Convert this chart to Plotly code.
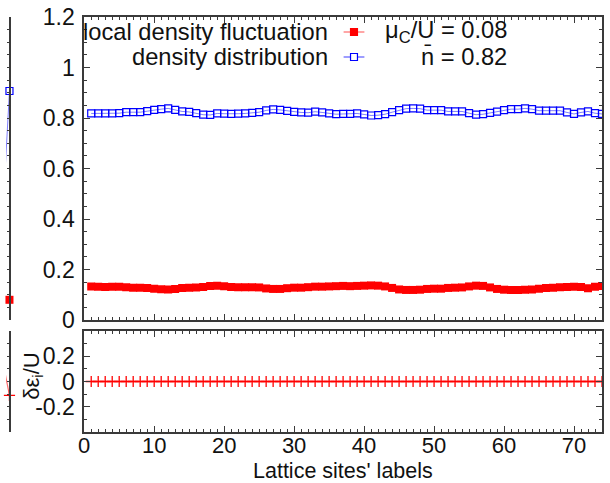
import plotly.graph_objects as go

# Lattice sites and on-site quantities
sites = list(range(1, 75))

density = [
    0.818, 0.818, 0.818, 0.818, 0.819, 0.823, 0.823, 0.823, 0.827, 0.832,
    0.835, 0.838, 0.832, 0.826, 0.824, 0.819, 0.813, 0.812, 0.818, 0.817,
    0.816, 0.817, 0.818, 0.820, 0.823, 0.830, 0.834, 0.832, 0.828, 0.824,
    0.822, 0.821, 0.825, 0.822, 0.818, 0.815, 0.816, 0.816, 0.818, 0.814,
    0.810, 0.811, 0.815, 0.823, 0.831, 0.837, 0.838, 0.837, 0.831, 0.831,
    0.831, 0.826, 0.826, 0.826, 0.819, 0.813, 0.815, 0.820, 0.825, 0.831,
    0.835, 0.835, 0.838, 0.835, 0.829, 0.829, 0.829, 0.829, 0.822, 0.816,
    0.822, 0.826, 0.819, 0.816,
]

fluctuation = [
    0.133, 0.132, 0.131, 0.132, 0.132, 0.130, 0.128, 0.128, 0.127, 0.124,
    0.122, 0.121, 0.123, 0.127, 0.128, 0.129, 0.131, 0.135, 0.136, 0.134,
    0.131, 0.130, 0.130, 0.130, 0.129, 0.125, 0.123, 0.123, 0.126, 0.128,
    0.128, 0.130, 0.132, 0.132, 0.133, 0.134, 0.135, 0.134, 0.135, 0.136,
    0.137, 0.136, 0.133, 0.127, 0.121, 0.119, 0.119, 0.120, 0.123, 0.124,
    0.124, 0.127, 0.128, 0.129, 0.133, 0.136, 0.135, 0.129, 0.123, 0.120,
    0.119, 0.119, 0.120, 0.121, 0.124, 0.127, 0.128, 0.130, 0.131, 0.132,
    0.131, 0.126, 0.132, 0.135,
]

delta_eps = [0.0] * len(sites)

# Tail of the neighbouring panel on the left
prev_sites = [9, 10]
prev_density = [0.35, 0.907]
prev_fluctuation = [0.09, 0.08]
prev_delta_eps = [0.1, -0.055]

legend_labels = ["local density fluctuation", "density distribution"]
param_labels = ["μ<sub>C</sub>/U = 0.08", "n\u0304 = 0.82"]
x_title = "Lattice sites' labels"
y2_title = "δε<sub>i</sub>/U"

FONT = "Liberation Sans"
TXT = "#111"
RED = "#ff0000"
BLUE = "#0000ff"
FRAME = "#3a3a3a"
FS = 23
FS_KEY = 23.7

W, H = 610, 483
L, R, T, B = 0, 8, 17, 51
PW = W - L - R
PH = H - T - B


def px(x):
    return x / PW


def py(y):
    return (H - B - y) / PH


fig = go.Figure()

# main top panel
fig.add_trace(go.Scatter(
    x=sites, y=fluctuation, mode="lines+markers", xaxis="x", yaxis="y",
    line=dict(color="rgba(255,60,60,0.7)", width=1.5),
    marker=dict(symbol="square", size=8, color=RED, line=dict(width=0)),
    showlegend=False,
))
fig.add_trace(go.Scatter(
    x=sites, y=density, mode="lines+markers", xaxis="x", yaxis="y",
    line=dict(color="rgba(40,40,255,0.6)", width=1),
    marker=dict(symbol="square-open", size=7, color=BLUE, line=dict(width=1.2)),
    showlegend=False,
))

# main bottom panel
fig.add_trace(go.Scatter(
    x=sites, y=delta_eps, mode="lines+markers", xaxis="x2", yaxis="y2",
    line=dict(color="rgba(255,60,60,0.75)", width=1.5),
    marker=dict(symbol="cross-thin", size=8, color=RED, line=dict(width=1.3, color=RED)),
    showlegend=False,
))

# neighbouring panel tail
fig.add_trace(go.Scatter(
    x=prev_sites, y=prev_density, mode="lines+markers", xaxis="x3", yaxis="y3",
    line=dict(color="rgba(40,40,255,0.6)", width=1),
    marker=dict(symbol="square-open", size=7, color=BLUE, line=dict(width=1.2)),
    cliponaxis=False, showlegend=False,
))
fig.add_trace(go.Scatter(
    x=prev_sites, y=prev_fluctuation, mode="lines+markers", xaxis="x3", yaxis="y3",
    line=dict(color="rgba(255,60,60,0.7)", width=1.5),
    marker=dict(symbol="square", size=8, color=RED, line=dict(width=0)),
    cliponaxis=False, showlegend=False,
))
fig.add_trace(go.Scatter(
    x=prev_sites, y=prev_delta_eps, mode="lines+markers", xaxis="x4", yaxis="y4",
    line=dict(color="rgba(255,60,60,0.75)", width=1.2),
    marker=dict(symbol="cross-thin", size=8, color=RED, line=dict(width=1.3, color=RED)),
    cliponaxis=False, showlegend=False,
))

tickfont = dict(family=FONT, size=FS, color=TXT)
frame = dict(showline=True, linecolor=FRAME, linewidth=1.6, mirror="allticks",
             ticks="inside", tickcolor=FRAME, tickwidth=1.2, showgrid=False,
             zeroline=False)

x_main = [px(79), 1.0]
top_dom = [py(320), py(17)]
bot_dom = [py(432), py(331)]

fig.update_layout(
    width=W, height=H,
    margin=dict(l=L, r=R, t=T, b=B),
    paper_bgcolor="white", plot_bgcolor="white",
    xaxis=dict(domain=x_main, anchor="y", range=[0, 74], dtick=10, ticklen=6,
               showticklabels=False,
               minor=dict(dtick=1, ticklen=3, ticks="inside", tickcolor=FRAME),
               **frame),
    yaxis=dict(domain=top_dom, anchor="x", range=[0, 1.2], dtick=0.2, ticklen=6,
               tickfont=tickfont, ticklabelstandoff=3,
               minor=dict(dtick=0.05, ticklen=3, ticks="inside", tickcolor=FRAME),
               **frame),
    xaxis2=dict(domain=x_main, anchor="y2", range=[0, 74], dtick=10, ticklen=6,
                tickfont=dict(family=FONT, size=22, color=TXT), matches="x",
                ticklabelstandoff=-7,
                minor=dict(dtick=1, ticklen=3, ticks="inside", tickcolor=FRAME),
                **frame),
    yaxis2=dict(domain=bot_dom, anchor="x2", range=[-0.4, 0.4],
                tickvals=[-0.2, 0, 0.2], ticktext=["-0.2", "0", "0.2"], ticklen=6,
                tickfont=tickfont, ticklabelstandoff=3,
                minor=dict(dtick=0.1, ticklen=3, ticks="inside", tickcolor=FRAME),
                **frame),
    xaxis3=dict(domain=[0, px(3.5)], anchor="y3", range=[9.55, 10.0], visible=False),
    yaxis3=dict(domain=top_dom, anchor="x3", range=[0, 1.2], side="right",
                showline=True, linecolor=FRAME, linewidth=1.6, ticks="inside",
                tickcolor=FRAME, ticklen=3, dtick=0.05, showticklabels=False,
                showgrid=False, zeroline=False),
    xaxis4=dict(domain=[0, px(3.5)], anchor="y4", range=[9.55, 10.0], visible=False),
    yaxis4=dict(domain=bot_dom, anchor="x4", range=[-0.2, 0.2], side="right",
                showline=True, linecolor=FRAME, linewidth=1.6, ticks="inside",
                tickcolor=FRAME, ticklen=3, dtick=0.05, showticklabels=False,
                showgrid=False, zeroline=False),
)

# axis titles
fig.add_annotation(x=px(340), y=py(471), xref="paper", yref="paper",
                   xanchor="center", yanchor="middle", showarrow=False,
                   text=x_title, font=dict(family=FONT, size=21.5, color=TXT))
fig.add_annotation(x=px(27), y=py(376), xref="paper", yref="paper",
                   xanchor="center", yanchor="middle", showarrow=False,
                   textangle=-90, text=y2_title,
                   font=dict(family=FONT, size=22, color=TXT))

# key: right-aligned labels followed by line/marker samples
rows_y = [32, 57]
colors = [RED, BLUE]
for label, yy, col, filled in zip(legend_labels, rows_y, colors, [True, False]):
    fig.add_annotation(x=px(327), y=py(yy), xref="paper", yref="paper",
                       xanchor="right", yanchor="middle", showarrow=False,
                       text=label, font=dict(family=FONT, size=FS_KEY, color=TXT))
    line_col = "rgba(255,60,60,0.7)" if filled else "rgba(40,40,255,0.7)"
    fig.add_shape(type="line", xref="paper", yref="paper",
                  x0=px(341), x1=px(362), y0=py(yy), y1=py(yy),
                  line=dict(color=line_col, width=1.3))
    fig.add_shape(type="rect", xref="paper", yref="paper",
                  x0=px(348), x1=px(355), y0=py(yy + 3.5), y1=py(yy - 3.5),
                  line=dict(color=col, width=1.2),
                  fillcolor=col if filled else "white")

for txt, yy in zip(param_labels, rows_y):
    fig.add_annotation(x=px(508), y=py(yy), xref="paper", yref="paper",
                       xanchor="right", yanchor="middle", showarrow=False,
                       text=txt, font=dict(family=FONT, size=FS_KEY, color=TXT))

fig.write_html("out.html")
